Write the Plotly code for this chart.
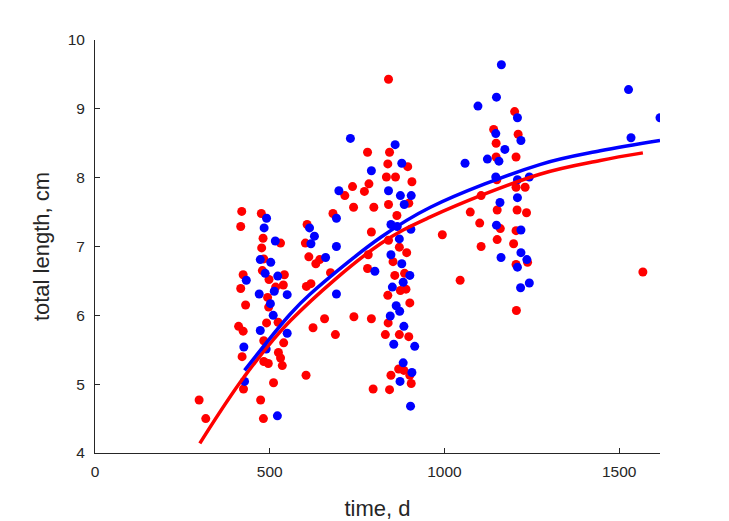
import plotly.graph_objs as go

# Red group: time (d) and total length (cm)
red_time = [420, 417, 476, 481, 531, 477, 483, 479, 424, 498, 542, 539, 517, 417, 494, 497, 431, 491, 524, 411,
            424, 483, 540, 525, 421, 531, 483, 496, 536, 511, 425, 298, 474, 317, 482,
            780, 737, 784, 771, 715, 740, 798, 681, 607, 791, 602, 612, 643, 632, 782, 674, 780, 605, 618, 657,
            741, 791, 624, 688, 604, 796,
            840, 843, 838, 895, 834, 860, 907, 898, 840, 864, 840, 871, 892, 853, 858, 886, 874, 890, 838, 901,
            839, 831, 871, 898, 869, 884, 847, 901, 905, 843,
            1201, 1141, 1211, 1148, 1148, 1205, 1150, 1205, 1231, 1105, 1074, 1151, 1208, 1235, 1101, 1160, 1205,
            994, 1151, 1198, 1105, 1238, 1205, 1045, 1206, 1568]
red_length = [7.51, 7.29, 7.48, 7.12, 7.05, 6.98, 6.82, 6.65, 6.59, 6.52, 6.59, 6.44, 6.41, 6.39, 6.26, 6.12, 6.15,
              5.89, 5.90, 5.84, 5.77, 5.63, 5.60, 5.46, 5.40, 5.38, 5.33, 5.30, 5.27, 5.02, 4.93, 4.77, 4.77, 4.50,
              4.50,
              8.37, 7.87, 7.91, 7.80, 7.74, 7.57, 7.57, 7.48, 7.32, 7.21, 7.05, 6.85, 6.81, 6.75, 6.88, 6.62, 6.68,
              6.42, 6.46, 5.95, 5.98, 5.95, 5.82, 5.72, 5.13, 4.93,
              9.43, 8.37, 8.20, 8.16, 8.01, 8.01, 7.94, 7.63, 7.61, 7.45, 7.09, 6.99, 6.91, 6.78, 6.58, 6.61, 6.36,
              6.38, 6.29, 6.18, 5.89, 5.72, 5.72, 5.69, 5.22, 5.20, 5.13, 5.13, 5.01, 4.92,
              8.96, 8.70, 8.63, 8.50, 8.30, 8.30, 7.97, 7.86, 7.86, 7.74, 7.50, 7.53, 7.53, 7.49, 7.34, 7.26, 7.23,
              7.17, 7.10, 7.04, 7.00, 6.77, 6.74, 6.51, 6.07, 6.63]

# Blue group
blue_time = [491, 484, 516, 473, 503, 487, 433, 523, 513, 470, 550, 502, 510, 473, 550, 426, 490, 428, 522,
             731, 791, 698, 691, 614, 628, 618, 691, 660, 801, 691,
             859, 878, 840, 874, 905, 885, 847, 865, 904, 871, 847, 878, 901, 882, 851, 862, 872, 845, 884, 855,
             915, 882, 907, 873, 903,
             1163, 1149, 1096, 1209, 1147, 1219, 1173, 1123, 1156, 1059, 1147, 1209, 1243, 1209, 1159, 1149, 1219,
             1219, 1162, 1236, 1209, 1243, 1218,
             1527, 1617, 1534]
blue_length = [7.41, 7.27, 7.08, 6.81, 6.77, 6.61, 6.51, 6.57, 6.35, 6.31, 6.30, 6.17, 6.00, 5.78, 5.74, 5.54,
               5.51, 5.04, 4.54,
               8.57, 8.10, 7.81, 7.41, 7.27, 7.15, 7.04, 7.00, 6.84, 6.64, 6.31,
               8.48, 8.21, 7.81, 7.74, 7.74, 7.61, 7.32, 7.29, 7.25, 7.11, 6.88, 6.75, 6.58, 6.48, 6.41, 6.14,
               6.06, 5.99, 5.84, 5.58, 5.55, 5.31, 5.17, 5.04, 4.68,
               9.64, 9.17, 9.04, 8.87, 8.64, 8.54, 8.41, 8.27, 8.24, 8.21, 8.01, 7.97, 8.01, 7.71, 7.64, 7.31,
               7.24, 6.91, 6.84, 6.81, 6.70, 6.47, 6.40,
               9.28, 8.87, 8.58]

# Growth curves
red_fit_time = [300, 426, 559, 817, 960, 1273, 1446, 1568]
red_fit_length = [4.14, 5.10, 5.92, 7.04, 7.43, 8.05, 8.25, 8.36]
blue_fit_time = [428, 559, 616, 817, 960, 1273, 1446, 1617]
blue_fit_length = [5.20, 6.02, 6.31, 7.13, 7.57, 8.19, 8.39, 8.54]

axis_color = '#262626'
font_name = 'Liberation Sans, Arial, sans-serif'

fig = go.Figure()

fig.add_trace(go.Scatter(x=red_time, y=red_length, mode='markers',
                         marker=dict(color='#ff0000', size=9), name='red'))
fig.add_trace(go.Scatter(x=blue_time, y=blue_length, mode='markers',
                         marker=dict(color='#0000ff', size=9), name='blue'))
fig.add_trace(go.Scatter(x=red_fit_time, y=red_fit_length, mode='lines',
                         line=dict(color='#ff0000', width=3.5, shape='spline'), name='red fit'))
fig.add_trace(go.Scatter(x=blue_fit_time, y=blue_fit_length, mode='lines',
                         line=dict(color='#0000ff', width=3.5, shape='spline'), name='blue fit'))

# page body has an 8px margin, so the figure is shrunk and shifted to match
fig.update_layout(
    width=721, height=513,
    margin=dict(l=87, r=69, t=32, b=68),
    paper_bgcolor='white', plot_bgcolor='white',
    showlegend=False,
    font=dict(family=font_name, size=15.5, color=axis_color),
)

fig.update_xaxes(
    range=[0, 1617], tickvals=[0, 500, 1000, 1500],
    showline=True, linecolor=axis_color, linewidth=1,
    ticks='inside', ticklen=5, tickcolor=axis_color,
    showgrid=False, zeroline=False, automargin=False,
    ticklabelstandoff=4,
    title=dict(text='time, d', font=dict(size=22), standoff=26),
)
fig.update_yaxes(
    range=[4, 10], tickvals=[4, 5, 6, 7, 8, 9, 10],
    showline=True, linecolor=axis_color, linewidth=1,
    ticks='inside', ticklen=5, tickcolor=axis_color,
    showgrid=False, zeroline=False, automargin=False,
    ticklabelstandoff=6,
    title=dict(text='total length, cm', font=dict(size=22), standoff=11),
)

fig.write_html("out.html")
